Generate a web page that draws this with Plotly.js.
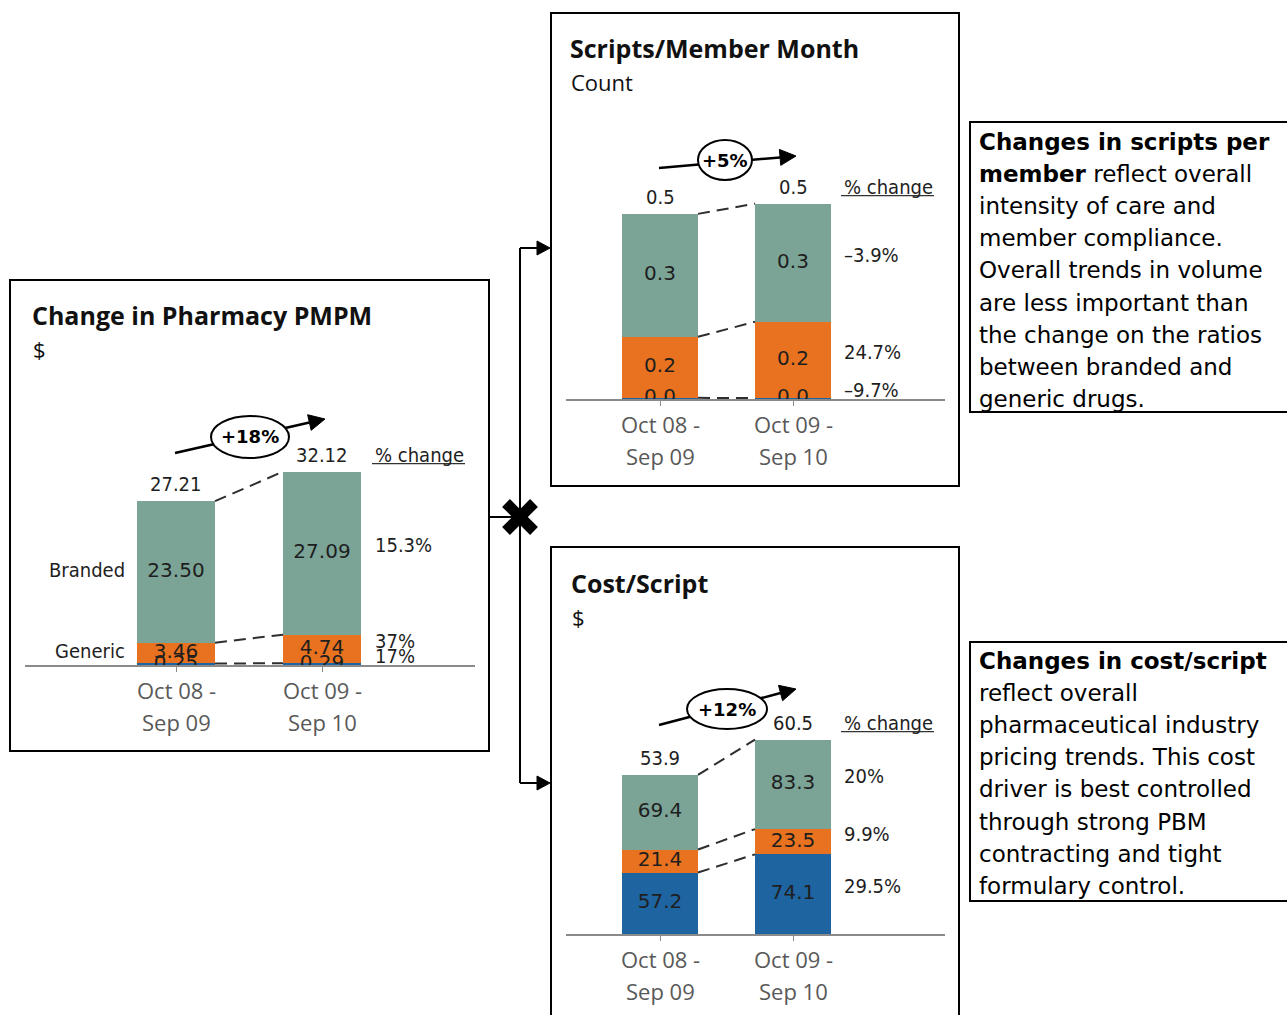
<!DOCTYPE html>
<html>
<head>
<meta charset="utf-8">
<script src="https://cdn.plot.ly/plotly-3.0.1.min.js"></script>
<style>
  html, body { margin: 0; padding: 0; background: #ffffff; }
  #chart { width: 1287px; height: 1015px; }
</style>
</head>
<body>
<div id="chart"></div>
<script>
// ---- Data --------------------------------------------------------------
const periodLine1 = ['Oct 08 -', 'Oct 09 -'];
const periodLine2 = ['Sep 09', 'Sep 10'];

// Pharmacy PMPM ($), stacked bottom to top
const pmpmOther   = [0.25, 0.29];
const pmpmGeneric = [3.46, 4.74];
const pmpmBranded = [23.50, 27.09];
const pmpmSegmentNames = ['', 'Generic', 'Branded'];
const pmpmPctChange = ['17%', '37%', '15.3%'];
const pmpmGrowth = '+18%';

// Scripts per member month (count), stacked bottom to top
const smmOther   = [0.0031, 0.0028];
const smmGeneric = [0.166, 0.207];
const smmBranded = [0.334, 0.321];
const smmPctChange = ['\u20139.7%', '24.7%', '\u20133.9%'];
const smmGrowth = '+5%';

// Cost per script ($), stacked bottom to top
const cpsBottom = [57.2, 74.1];
const cpsMiddle = [21.4, 23.5];
const cpsTop    = [69.4, 83.3];
const cpsTotals = [53.9, 60.5];
const cpsPctChange = ['29.5%', '9.9%', '20%'];
const cpsGrowth = '+12%';

// Side notes
const scriptsNoteLines = [
  '<b>Changes in scripts per</b>',
  '<b>member</b> reflect overall',
  'intensity of care and',
  'member compliance.',
  'Overall trends in volume',
  'are less important than',
  'the change on the ratios',
  'between branded and',
  'generic drugs.'
];
const costNoteLines = [
  '<b>Changes in cost/script</b>',
  'reflect overall',
  'pharmaceutical industry',
  'pricing trends. This cost',
  'driver is best controlled',
  'through strong PBM',
  'contracting and tight',
  'formulary control.'
];

// ---- Styling & geometry -------------------------------------------------
const W = 1287, H = 1015;
const PX = v => v / W;
const PY = v => 1 - v / H;

const GREEN = '#7BA497', ORANGE = '#E8721F', BLUE = '#1E64A1';
const layerColors = [BLUE, ORANGE, GREEN];
const INK = '#1e1e1e';
const LABEL_FONT = "'DejaVu Sans Condensed', 'DejaVu Sans', sans-serif";
const VALUE_FONT = "'DejaVu Sans', sans-serif";
const TITLE_FONT = "'Open Sans', sans-serif";
const NOTE_FONT = "'DejaVu Sans', sans-serif";

const panels = [
  { xa: 'x', ya: 'y', c0: 176, c1: 322, left: 25, right: 475, base: 665, top: 395, k: 6.02, barPx: 78,
    title: 'Change in Pharmacy PMPM', unit: '$', titleX: 30, titleY: 315, unitY: 349,
    layers: [pmpmOther, pmpmGeneric, pmpmBranded], fmt: 2, totals: null,
    names: pmpmSegmentNames, pct: pmpmPctChange, growth: pmpmGrowth, pctPx: 373,
    callout: { sx: 175, sy: 453, tx: 325, ty: 419, cx: 250, cy: 437, rx: 39, ry: 21 } },
  { xa: 'x2', ya: 'y2', c0: 660, c1: 793, left: 566, right: 945, base: 399, top: 130, k: 368, barPx: 76,
    title: 'Scripts/Member Month', unit: 'Count', titleX: 568, titleY: 48, unitY: 82,
    layers: [smmOther, smmGeneric, smmBranded], fmt: 1, totals: null,
    names: null, pct: smmPctChange, growth: smmGrowth, pctPx: 842,
    callout: { sx: 659, sy: 168, tx: 796, ty: 156, cx: 725, cy: 160, rx: 27, ry: 20 } },
  { xa: 'x3', ya: 'y3', c0: 660, c1: 793, left: 566, right: 945, base: 934, top: 665, k: 1.075, barPx: 76,
    title: 'Cost/Script', unit: '$', titleX: 569, titleY: 583, unitY: 617,
    layers: [cpsBottom, cpsMiddle, cpsTop], fmt: 1, totals: cpsTotals,
    names: null, pct: cpsPctChange, growth: cpsGrowth, pctPx: 842,
    callout: { sx: 659, sy: 725, tx: 796, ty: 689, cx: 727, cy: 709, rx: 40, ry: 20 } }
];

const traces = [];
const textTraces = [];
const annotations = [];
const shapes = [];
const layout = {
  width: W, height: H,
  margin: { l: 0, r: 0, t: 0, b: 0, pad: 0 },
  paper_bgcolor: '#ffffff', plot_bgcolor: 'rgba(0,0,0,0)',
  barmode: 'stack', showlegend: false, hovermode: false,
  annotations, shapes
};

// Panel frames
shapes.push(
  { type: 'rect', xref: 'paper', yref: 'paper', x0: PX(10), x1: PX(489), y0: PY(751), y1: PY(280), line: { color: '#000', width: 2 } },
  { type: 'rect', xref: 'paper', yref: 'paper', x0: PX(551), x1: PX(959), y0: PY(486), y1: PY(13), line: { color: '#000', width: 2 } },
  { type: 'rect', xref: 'paper', yref: 'paper', x0: PX(551), x1: PX(959), y0: PY(1030), y1: PY(547), line: { color: '#000', width: 2 } }
);

panels.forEach((p, pi) => {
  const dx = p.c1 - p.c0;
  const hw = p.barPx / dx / 2;
  const axSuffix = pi === 0 ? '' : String(pi + 1);
  layout['xaxis' + axSuffix] = {
    domain: [PX(p.left), PX(p.right)],
    range: [(p.left - p.c0) / dx, (p.right - p.c0) / dx],
    anchor: p.ya, showgrid: false, zeroline: false,
    showline: true, linecolor: '#8a8a8a', linewidth: 1.5,
    ticks: 'outside', ticklen: 5, tickwidth: 1, tickcolor: '#8a8a8a',
    tickvals: [0, 1], showticklabels: false, fixedrange: true
  };
  layout['yaxis' + axSuffix] = {
    domain: [PY(p.base), PY(p.top)],
    range: [0, (p.base - p.top) / p.k],
    anchor: p.xa, visible: false, fixedrange: true
  };

  // cumulative boundaries
  const bounds = [];
  let run = [0, 0];
  p.layers.forEach(vals => {
    const lo = run.slice();
    run = [run[0] + vals[0], run[1] + vals[1]];
    bounds.push({ lo, hi: run.slice() });
  });

  // stacked segments and their value labels (clipped at the baseline)
  p.layers.forEach((vals, i) => {
    traces.push({
      type: 'bar', x: [0, 1], y: vals, width: 2 * hw,
      xaxis: p.xa, yaxis: p.ya,
      marker: { color: layerColors[i], line: { width: 0 } },
      hoverinfo: 'skip', showlegend: false
    });
    const b = bounds[i];
    textTraces.push({
      type: 'scatter', mode: 'text', x: [0, 1],
      y: [0, 1].map(j => (b.lo[j] + b.hi[j]) / 2),
      text: vals.map(v => v.toFixed(p.fmt)),
      textposition: 'middle center', cliponaxis: true,
      textfont: { family: VALUE_FONT, size: 20, color: INK },
      xaxis: p.xa, yaxis: p.ya, hoverinfo: 'skip', showlegend: false
    });
  });

  // dashed links between matching boundaries
  bounds.forEach(b => {
    traces.push({
      type: 'scatter', mode: 'lines', x: [hw, 1 - hw], y: b.hi,
      xaxis: p.xa, yaxis: p.ya,
      line: { color: '#2e2e2e', width: 2, dash: '12px,7px' },
      hoverinfo: 'skip', showlegend: false
    });
  });

  const total = bounds[bounds.length - 1].hi;
  const labelFont = { family: LABEL_FONT, size: 20, color: INK };

  // totals above bars
  [0, 1].forEach(i => {
    annotations.push({
      xref: p.xa, yref: p.ya, x: i, y: total[i], yshift: 17,
      text: (p.totals ? p.totals[i] : total[i]).toFixed(p.fmt),
      showarrow: false, xanchor: 'center', yanchor: 'middle', font: labelFont
    });
  });

  // % change column
  const pctX = (p.pctPx - p.c0) / dx;
  annotations.push({
    xref: p.xa, yref: p.ya, x: pctX, y: total[1], yshift: 17,
    text: '% change', showarrow: false, xanchor: 'left', yanchor: 'middle', font: labelFont
  });
  const ulY = p.base - total[1] * p.k - 17 + 9;
  shapes.push({ type: 'line', xref: 'paper', yref: 'paper',
    x0: PX(p.pctPx - 1), x1: PX(p.pctPx + 92), y0: PY(ulY), y1: PY(ulY),
    line: { color: '#333333', width: 1.3 } });
  bounds.forEach((b, i) => {
    annotations.push({
      xref: p.xa, yref: p.ya, x: pctX, y: (b.lo[1] + b.hi[1]) / 2, yshift: 8,
      text: p.pct[i], showarrow: false, xanchor: 'left', yanchor: 'middle', font: labelFont
    });
  });

  // segment names
  if (p.names) {
    bounds.forEach((b, i) => {
      if (!p.names[i]) return;
      annotations.push({
        xref: p.xa, yref: p.ya, x: -hw, xshift: -10, y: (b.lo[0] + b.hi[0]) / 2, yshift: 2,
        text: p.names[i], showarrow: false, xanchor: 'right', yanchor: 'middle', font: labelFont
      });
    });
  }

  // period labels
  [0, 1].forEach(i => {
    [[periodLine1, 25], [periodLine2, 57]].forEach(([lines, off]) => {
      annotations.push({
        xref: p.xa, yref: 'paper', x: i, y: PY(p.base + off),
        text: lines[i], showarrow: false, xanchor: 'center', yanchor: 'middle',
        font: { family: TITLE_FONT, size: 22, color: '#595959' }
      });
    });
  });

  // panel title and unit
  annotations.push({
    xref: 'paper', yref: 'paper', x: PX(p.titleX), y: PY(p.titleY),
    text: '<b>' + p.title + '</b>', showarrow: false, xanchor: 'left', yanchor: 'middle',
    font: { family: TITLE_FONT, size: 25, color: '#111111' }
  });
  annotations.push({
    xref: 'paper', yref: 'paper', x: PX(p.titleX + 1), y: PY(p.unitY),
    text: p.unit, showarrow: false, xanchor: 'left', yanchor: 'middle',
    font: { family: TITLE_FONT, size: 22, color: '#111111' }
  });

  // growth callout: arrow with ellipse
  const c = p.callout;
  const len = Math.hypot(c.tx - c.sx, c.ty - c.sy);
  const ux = (c.tx - c.sx) / len, uy = (c.ty - c.sy) / len;
  const headL = 16, headW = 8;
  const bx = c.tx - headL * ux, by = c.ty - headL * uy;
  shapes.push({ type: 'line', xref: 'paper', yref: 'paper',
    x0: PX(c.sx), y0: PY(c.sy), x1: PX(bx), y1: PY(by), line: { color: '#000', width: 2.5 } });
  const p1 = [bx - headW * uy, by + headW * ux], p2 = [bx + headW * uy, by - headW * ux];
  shapes.push({ type: 'path', xref: 'paper', yref: 'paper',
    path: `M ${PX(c.tx)} ${PY(c.ty)} L ${PX(p1[0])} ${PY(p1[1])} L ${PX(p2[0])} ${PY(p2[1])} Z`,
    fillcolor: '#000', line: { color: '#000', width: 1 } });
  shapes.push({ type: 'circle', xref: 'paper', yref: 'paper',
    x0: PX(c.cx - c.rx), x1: PX(c.cx + c.rx), y0: PY(c.cy + c.ry), y1: PY(c.cy - c.ry),
    fillcolor: '#ffffff', line: { color: '#000', width: 2 } });
  annotations.push({
    xref: 'paper', yref: 'paper', x: PX(c.cx), y: PY(c.cy),
    text: '<b>' + p.growth + '</b>', showarrow: false, xanchor: 'center', yanchor: 'middle',
    font: { family: VALUE_FONT, size: 18, color: '#000' }
  });
});

// Connectors from the PMPM panel to its two drivers
const connector = { color: '#000', width: 2 };
shapes.push(
  { type: 'line', xref: 'paper', yref: 'paper', x0: PX(489), x1: PX(520), y0: PY(517), y1: PY(517), line: connector },
  { type: 'line', xref: 'paper', yref: 'paper', x0: PX(520), x1: PX(520), y0: PY(248), y1: PY(783), line: connector },
  { type: 'line', xref: 'paper', yref: 'paper', x0: PX(520), x1: PX(538), y0: PY(248), y1: PY(248), line: connector },
  { type: 'line', xref: 'paper', yref: 'paper', x0: PX(520), x1: PX(538), y0: PY(783), y1: PY(783), line: connector }
);
[248, 783].forEach(yv => {
  shapes.push({ type: 'path', xref: 'paper', yref: 'paper',
    path: `M ${PX(537)} ${PY(yv - 7)} L ${PX(550)} ${PY(yv)} L ${PX(537)} ${PY(yv + 7)} Z`,
    fillcolor: '#000', line: { color: '#000', width: 1 } });
});
// multiplication mark at the junction
shapes.push(
  { type: 'line', xref: 'paper', yref: 'paper', x0: PX(506), y0: PY(503), x1: PX(534), y1: PY(531), line: { color: '#000', width: 11 } },
  { type: 'line', xref: 'paper', yref: 'paper', x0: PX(534), y0: PY(503), x1: PX(506), y1: PY(531), line: { color: '#000', width: 11 } }
);

// Side note boxes
shapes.push(
  { type: 'path', xref: 'paper', yref: 'paper',
    path: `M ${PX(1300)} ${PY(122)} L ${PX(970)} ${PY(122)} L ${PX(970)} ${PY(412)} L ${PX(1300)} ${PY(412)}`,
    line: { color: '#000', width: 2 } },
  { type: 'path', xref: 'paper', yref: 'paper',
    path: `M ${PX(1300)} ${PY(642)} L ${PX(970)} ${PY(642)} L ${PX(970)} ${PY(901)} L ${PX(1300)} ${PY(901)}`,
    line: { color: '#000', width: 2 } }
);
[[scriptsNoteLines, 142], [costNoteLines, 661]].forEach(([lines, y0]) => {
  lines.forEach((t, i) => {
    annotations.push({
      xref: 'paper', yref: 'paper', x: PX(977), y: PY(y0 + i * 32.1),
      text: t, showarrow: false, xanchor: 'left', yanchor: 'middle',
      font: { family: NOTE_FONT, size: 23, color: '#000' }
    });
  });
});

Plotly.newPlot('chart', traces.concat(textTraces), layout, { staticPlot: true, displayModeBar: false });
</script>
</body>
</html>
